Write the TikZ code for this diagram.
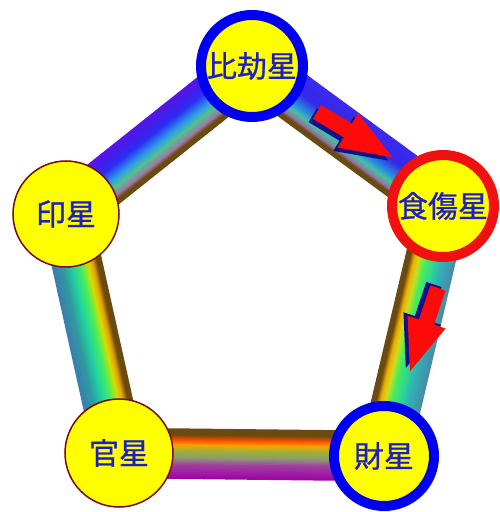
\documentclass[tikz,border=0pt]{standalone}
\usepackage{fontspec}
\newfontfamily\cjk[FakeBold=0.9]{Noto Sans CJK JP}
\usetikzlibrary{calc}
\definecolor{bbrown}{HTML}{6B4A10}
\definecolor{txtblue}{RGB}{30,30,200}
\definecolor{ringblue}{HTML}{0000F0}
\definecolor{ringred}{HTML}{F01010}
\definecolor{thinred}{HTML}{7A0A0A}
\definecolor{cyel}{HTML}{FFFF00}
\definecolor{arrred}{HTML}{FF0A0A}
\definecolor{arrnavy}{HTML}{10108A}
% band 1
\definecolor{ua}{HTML}{5A12E6}\definecolor{ub}{HTML}{2B2BF2}\definecolor{uc}{HTML}{2E9DE8}
\definecolor{ud}{HTML}{52C38E}\definecolor{ue}{HTML}{9F78A8}
% band 2
\definecolor{va}{HTML}{3A2AF0}\definecolor{vb}{HTML}{3528E8}\definecolor{vc}{HTML}{2690E0}
\definecolor{vd}{HTML}{45C2A0}\definecolor{ve}{HTML}{9272A2}
% band 3
\definecolor{wa}{HTML}{4A8AA6}\definecolor{wb}{HTML}{2FB0B8}\definecolor{wc}{HTML}{30D890}
\definecolor{wd}{HTML}{44EE5E}\definecolor{we}{HTML}{C8E020}\definecolor{wf}{HTML}{F0B000}
% band 4
\definecolor{xa}{HTML}{A000A8}\definecolor{xb}{HTML}{A040A0}\definecolor{xc}{HTML}{8E9A72}
\definecolor{xd}{HTML}{9CB232}\definecolor{xe}{HTML}{FFA000}\definecolor{xf}{HTML}{FF4A00}
% band 5
\definecolor{ya}{HTML}{3A7CB0}\definecolor{yb}{HTML}{2F9AA0}\definecolor{yc}{HTML}{22D2A0}
\definecolor{yd}{HTML}{44EE5E}\definecolor{ye}{HTML}{D2E000}\definecolor{yf}{HTML}{E8A000}
\newcommand\bandseg[6]{%
  \foreach \k in {0,...,5}{%
    \pgfmathsetmacro\oo{#3+(#4-#3)*(\k+0.5)/6}%
    \pgfmathtruncatemacro\pp{(\k+0.5)*100/6}%
    \pgfmathsetmacro\lw{abs(#4-#3)/6+0.6}%
    \draw[line width=\lw pt, #6!\pp!#5] ($(#1)!\oo pt!-90:(#2)$) -- ($(#2)!\oo pt!90:(#1)$);
  }}
\tikzset{
  star/.style={circle, inner sep=0pt, fill=cyel, text=txtblue,
    font=\cjk\fontsize{30}{30}\selectfont},
  thickring/.style={star, line width=10pt, minimum size=102pt},
  thinring/.style={star, draw=thinred, line width=1.5pt},
  blockarrow/.style={fill=arrred},
  arrshadow/.style={fill=arrnavy}
}
\newcommand\blockarrowshape{(0,8) -- (36,8) -- (36,20) -- (88,0) -- (36,-20) -- (36,-8) -- (0,-8) -- cycle}
\begin{document}
\begin{tikzpicture}[x=1pt,y=1pt]
\useasboundingbox (0,0) rectangle (499,512);
% positions
\coordinate (pB) at (252,446);
\coordinate (pS) at (443,306);
\coordinate (pZ) at (384,56);
\coordinate (pK) at (119,59);
\coordinate (pI) at (66,298);
% bands
\bandseg{pI}{pB}{-25}{-8}{ua}{ub}
\bandseg{pI}{pB}{-8}{3}{ub}{uc}
\bandseg{pI}{pB}{3}{10}{uc}{ud}
\bandseg{pI}{pB}{10}{17}{ud}{ue}
\bandseg{pI}{pB}{17}{21}{ue}{bbrown}
\bandseg{pI}{pB}{21}{25}{bbrown}{bbrown}
%
\bandseg{pB}{pS}{-25}{-6}{va}{vb}
\bandseg{pB}{pS}{-6}{6}{vb}{vc}
\bandseg{pB}{pS}{6}{12}{vc}{vd}
\bandseg{pB}{pS}{12}{18}{vd}{ve}
\bandseg{pB}{pS}{18}{21}{ve}{bbrown}
\bandseg{pB}{pS}{21}{25}{bbrown}{bbrown}
%
\bandseg{pS}{pZ}{-25}{-12}{wa}{wb}
\bandseg{pS}{pZ}{-12}{-3}{wb}{wc}
\bandseg{pS}{pZ}{-3}{5}{wc}{wd}
\bandseg{pS}{pZ}{5}{11}{wd}{we}
\bandseg{pS}{pZ}{11}{16}{we}{wf}
\bandseg{pS}{pZ}{16}{20.5}{wf}{bbrown}
\bandseg{pS}{pZ}{20.5}{25}{bbrown}{bbrown}
%
\bandseg{pZ}{pK}{-25}{-11}{xa}{xb}
\bandseg{pZ}{pK}{-11}{-4}{xb}{xc}
\bandseg{pZ}{pK}{-4}{3}{xc}{xd}
\bandseg{pZ}{pK}{3}{9}{xd}{xe}
\bandseg{pZ}{pK}{9}{14}{xe}{xf}
\bandseg{pZ}{pK}{14}{19}{xf}{bbrown}
\bandseg{pZ}{pK}{19}{25}{bbrown}{bbrown}
%
\bandseg{pK}{pI}{-25}{-14}{ya}{yb}
\bandseg{pK}{pI}{-14}{-5}{yb}{yc}
\bandseg{pK}{pI}{-5}{4}{yc}{yd}
\bandseg{pK}{pI}{4}{11}{yd}{ye}
\bandseg{pK}{pI}{11}{16}{ye}{yf}
\bandseg{pK}{pI}{16}{20.5}{yf}{bbrown}
\bandseg{pK}{pI}{20.5}{25}{bbrown}{bbrown}
% circles
\node[thickring, draw=ringblue] (hiko) at (pB) {比劫星};
\node[thickring, draw=ringred] (shoku) at (pS) {食傷星};
\node[thickring, draw=ringblue, minimum size=100pt] (zai) at (pZ) {財星};
\node[thinring, minimum size=108pt] (kan) at (pK) {官星};
\node[thinring, minimum size=106pt] (in) at (pI) {印星};
% arrows
\begin{scope}[shift={(317,400)}, rotate=-30.96]
  \fill[arrshadow] [shift={(-2,-5)}] \blockarrowshape;
  \fill[blockarrow] \blockarrowshape;
\end{scope}
\begin{scope}[shift={(438,224)}, rotate=-108.6]
  \fill[arrshadow] [shift={(-2,-5)}] \blockarrowshape;
  \fill[blockarrow] \blockarrowshape;
\end{scope}
\end{tikzpicture}
\end{document}
